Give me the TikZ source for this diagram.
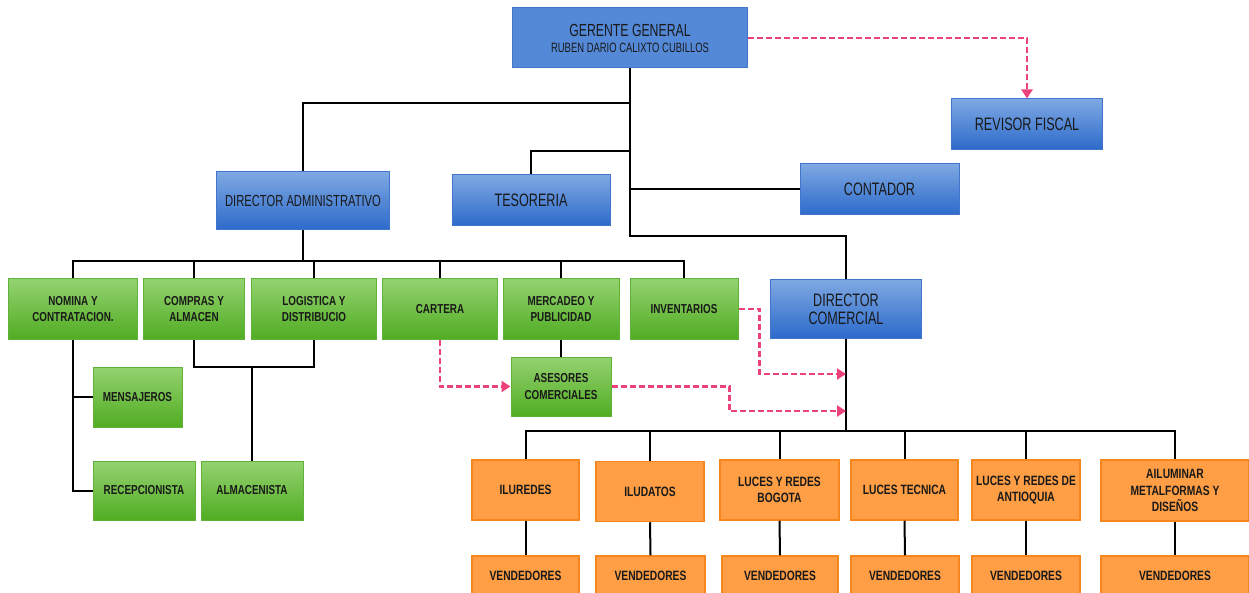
\documentclass[tikz,border=0pt]{standalone}
\usepackage{fontspec}
\setmainfont{Liberation Sans}
\newfontfamily\bluefont[FakeStretch=0.7]{Liberation Sans}
\newfontfamily\boxfont[FakeStretch=0.76]{Liberation Sans}
\usetikzlibrary{arrows.meta}
\definecolor{bluetop}{RGB}{126,168,226}
\definecolor{bluebot}{RGB}{44,106,203}
\definecolor{blueedge}{RGB}{66,118,205}
\definecolor{gerfill}{RGB}{84,137,216}
\definecolor{greentop}{RGB}{148,210,112}
\definecolor{greenbot}{RGB}{80,173,34}
\definecolor{greenedge}{RGB}{96,178,58}
\definecolor{orangefill}{RGB}{255,158,68}
\definecolor{orangeedge}{RGB}{246,135,30}
\definecolor{pinkline}{RGB}{236,66,122}
\definecolor{labeltext}{RGB}{25,25,25}
\tikzset{
  bluebox/.style={draw=blueedge, line width=1pt, top color=bluetop, bottom color=bluebot,
    text=labeltext, font=\bluefont\fontsize{18}{18}\selectfont, align=center, inner sep=0pt},
  greenbox/.style={draw=greenedge, line width=1pt, top color=greentop, bottom color=greenbot,
    text=labeltext, font=\boxfont\bfseries\fontsize{13}{16.7}\selectfont, align=center,
    inner sep=0pt, minimum height=60pt},
  orangebox/.style={draw=orangeedge, line width=1.5pt, fill=orangefill,
    text=labeltext, font=\boxfont\bfseries\fontsize{13.5}{16.7}\selectfont, align=center,
    inner sep=0pt, minimum height=60pt},
  link/.style={line width=2pt},
  pinklink/.style={draw=pinkline, line width=2.2pt, dash pattern=on 6pt off 3pt,
    -{Triangle[length=9pt,width=11pt]}}
}
\begin{document}
\begin{tikzpicture}[x=1pt,y=-1pt]
\useasboundingbox[fill=white] (0,0) rectangle (1249,593);
\clip (0,0) rectangle (1249,593);
\node[draw=blueedge, line width=1pt, fill=gerfill, text=labeltext, align=center, inner sep=0pt,
  minimum width=235pt, minimum height=60pt, font=\bluefont\fontsize{17.5}{16}\selectfont] (ger) at (630,38)
  {GERENTE GENERAL\\{\fontsize{13.5}{16}\selectfont RUBEN DARIO CALIXTO CUBILLOS}};
\node[bluebox, minimum width=151pt, minimum height=51pt] (rev) at (1027,124.5) {REVISOR FISCAL};
\node[bluebox, minimum width=173pt, minimum height=58pt, font=\bluefont\fontsize{16}{18}\selectfont] (dadm) at (303,201) {DIRECTOR ADMINISTRATIVO};
\node[bluebox, minimum width=158pt, minimum height=51pt] (teso) at (531,200.5) {TESORERIA};
\node[bluebox, minimum width=159pt, minimum height=51pt] (cont) at (879.5,189.5) {CONTADOR};
\node[bluebox, minimum width=151pt, minimum height=58pt] (dcom) at (846,309) {DIRECTOR\\COMERCIAL};

\node[greenbox, minimum width=129pt] (nom) at (73,309) {NOMINA Y\\CONTRATACION.};
\node[greenbox, minimum width=101pt] (comp) at (194,309) {COMPRAS Y\\ALMACEN};
\node[greenbox, minimum width=125pt] (log) at (314,309) {LOGISTICA Y\\DISTRIBUCIO};
\node[greenbox, minimum width=115pt] (cart) at (440,309) {CARTERA};
\node[greenbox, minimum width=116pt] (merc) at (561,309) {MERCADEO Y\\PUBLICIDAD};
\node[greenbox, minimum width=108pt] (inv) at (684,309) {INVENTARIOS};
\node[greenbox, minimum width=89pt] (mens) at (137.5,397) {MENSAJEROS};
\node[greenbox, minimum width=102pt, minimum height=59pt] (recep) at (144,490.5) {RECEPCIONISTA};
\node[greenbox, minimum width=102pt, minimum height=59pt] (almac) at (252,490.5) {ALMACENISTA};
\node[greenbox, minimum width=100pt, minimum height=59pt] (ases) at (561,386.5) {ASESORES\\COMERCIALES};

\node[orangebox, minimum width=107pt] (ilur) at (525.5,490) {ILUREDES};
\node[orangebox, minimum width=108pt] (ilud) at (650,491.5) {ILUDATOS};
\node[orangebox, minimum width=119pt] (lrb) at (779.5,490) {LUCES Y REDES\\BOGOTA};
\node[orangebox, minimum width=107pt] (ltec) at (904.5,490) {LUCES TECNICA};
\node[orangebox, minimum width=108pt] (lant) at (1026,490) {LUCES Y REDES DE\\ANTIOQUIA};
\node[orangebox, minimum width=148pt, minimum height=61pt] (ailu) at (1175,490.5) {AILUMINAR\\METALFORMAS Y\\DISEÑOS};
\foreach \n/\x/\w in {ilur/525.5/107, ilud/650.5/109, lrb/780/116, ltec/905/108, lant/1026/108, ailu/1175/148}
  \node[orangebox, minimum width=\w pt, minimum height=40pt] (v\n) at (\x,576) {VENDEDORES};

\coordinate (busA) at (630,103);
\coordinate (busT) at (630,151);
\coordinate (busC) at (846,236);
\coordinate (busG) at (303,261);
\coordinate (busL) at (252,367);
\coordinate (busV) at (846,431);
\coordinate (tgtA) at (846,374);
\coordinate (tgtB) at (846,411);

\draw[link] (ger.south) |- (busC) -- (dcom.north);
\draw[link] (dadm.north) |- (busA);
\draw[link] (teso.north) |- (busT);
\draw[link] (cont.west) -- (cont.west -| ger.south);
\draw[link] (dadm.south) -- (busG);
\draw[link] (nom.north) |- (busG) -| (inv.north);
\foreach \n in {comp,log,cart,merc}
  \draw[link] (\n.north) -- (\n.north |- busG);
\draw[link] (nom.south) |- (recep.west);
\draw[link] (mens.west) -- (mens.west -| nom.south);
\draw[link] (comp.south) |- (busL) -| (log.south);
\draw[link] (busL) -- (almac.north);
\draw[link] (merc.south) -- (ases.north);
\draw[link] (dcom.south) -- (busV);
\draw[link] (ilur.north) |- (busV) -| (ailu.north);
\foreach \n in {ilud,lrb,ltec,lant}
  \draw[link] (\n.north) -- (\n.north |- busV);
\foreach \n in {ilur,ilud,lrb,ltec,lant,ailu}
  \draw[link] (\n.south) -- (v\n.north);

\draw[pinklink] (ger.east) -| (rev.north);
\draw[pinklink] (cart.south) |- (ases.west);
\draw[pinklink] (inv.east) -- ++(21,0) |- (tgtA);
\draw[pinklink] (ases.east) -- ++(118,0) |- (tgtB);
\end{tikzpicture}
\end{document}
